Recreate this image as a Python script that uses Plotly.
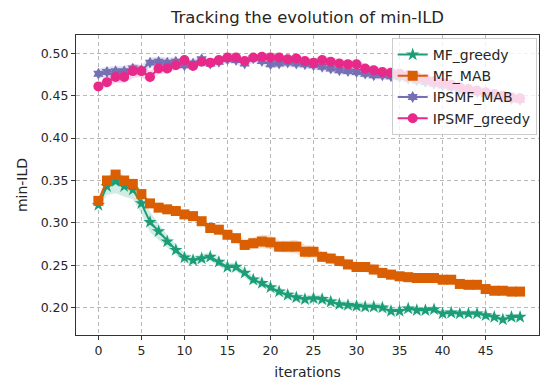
import plotly.graph_objects as go

iterations = list(range(50))

mf_greedy = [0.321, 0.343, 0.349, 0.343, 0.339, 0.323, 0.301, 0.290, 0.278, 0.268,
             0.259, 0.256, 0.258, 0.260, 0.254, 0.248, 0.248, 0.241, 0.233, 0.229,
             0.224, 0.219, 0.215, 0.212, 0.210, 0.211, 0.210, 0.207, 0.204, 0.203,
             0.202, 0.201, 0.201, 0.200, 0.196, 0.196, 0.199, 0.197, 0.197, 0.198,
             0.193, 0.194, 0.193, 0.193, 0.193, 0.191, 0.189, 0.186, 0.189, 0.189]
mf_greedy_err = [0.004, 0.010, 0.014, 0.012, 0.011, 0.012, 0.012, 0.010, 0.008, 0.007,
                 0.006, 0.005, 0.005, 0.005, 0.005, 0.005, 0.005, 0.005, 0.005, 0.005,
                 0.005, 0.005, 0.005, 0.005, 0.005, 0.005, 0.005, 0.005, 0.005, 0.005,
                 0.005, 0.005, 0.005, 0.005, 0.005, 0.005, 0.004, 0.004, 0.004, 0.004,
                 0.004, 0.004, 0.004, 0.004, 0.004, 0.004, 0.004, 0.004, 0.004, 0.004]

mf_mab = [0.326, 0.350, 0.357, 0.350, 0.346, 0.334, 0.323, 0.318, 0.316, 0.314,
          0.310, 0.308, 0.302, 0.294, 0.292, 0.286, 0.282, 0.274, 0.276, 0.278,
          0.277, 0.272, 0.272, 0.272, 0.266, 0.266, 0.260, 0.258, 0.255, 0.251,
          0.248, 0.248, 0.245, 0.241, 0.239, 0.237, 0.236, 0.235, 0.235, 0.235,
          0.233, 0.233, 0.228, 0.227, 0.227, 0.222, 0.220, 0.220, 0.219, 0.219]
mf_mab_err = [0.003, 0.004, 0.004, 0.004, 0.004, 0.004, 0.003, 0.003, 0.003, 0.003,
              0.003, 0.004, 0.004, 0.005, 0.005, 0.005, 0.005, 0.006, 0.007, 0.008,
              0.008, 0.007, 0.007, 0.008, 0.008, 0.007, 0.006, 0.006, 0.006, 0.006,
              0.006, 0.006, 0.006, 0.006, 0.006, 0.006, 0.005, 0.005, 0.005, 0.005,
              0.005, 0.004, 0.003, 0.003, 0.003, 0.003, 0.003, 0.003, 0.003, 0.003]

ipsmf_mab = [0.476, 0.478, 0.479, 0.479, 0.482, 0.480, 0.489, 0.490, 0.489, 0.490,
             0.486, 0.488, 0.493, 0.488, 0.490, 0.493, 0.492, 0.488, 0.494, 0.491,
             0.487, 0.488, 0.489, 0.488, 0.487, 0.486, 0.484, 0.482, 0.480, 0.479,
             0.478, 0.476, 0.474, 0.474, 0.473, 0.472, 0.470, 0.468, 0.466, 0.464,
             0.462, 0.460, 0.458, 0.456, 0.454, 0.452, 0.450, 0.448, 0.446, 0.445]
ipsmf_mab_err = [0.006, 0.006, 0.006, 0.006, 0.006, 0.006, 0.006, 0.006, 0.006, 0.006,
                 0.005, 0.005, 0.005, 0.005, 0.005, 0.005, 0.005, 0.005, 0.005, 0.005,
                 0.005, 0.005, 0.005, 0.005, 0.005, 0.005, 0.005, 0.005, 0.005, 0.005,
                 0.005, 0.005, 0.005, 0.005, 0.005, 0.005, 0.005, 0.005, 0.005, 0.005,
                 0.005, 0.005, 0.005, 0.005, 0.005, 0.005, 0.005, 0.005, 0.005, 0.005]

ipsmf_greedy = [0.461, 0.466, 0.472, 0.472, 0.479, 0.479, 0.472, 0.482, 0.482, 0.486,
                0.492, 0.485, 0.490, 0.489, 0.492, 0.495, 0.495, 0.491, 0.495, 0.496,
                0.495, 0.495, 0.493, 0.494, 0.491, 0.489, 0.492, 0.490, 0.488, 0.487,
                0.487, 0.482, 0.480, 0.478, 0.477, 0.476, 0.474, 0.472, 0.470, 0.467,
                0.465, 0.463, 0.460, 0.458, 0.456, 0.454, 0.452, 0.450, 0.448, 0.447]
ipsmf_greedy_err = [0.004, 0.006, 0.007, 0.007, 0.008, 0.007, 0.007, 0.006, 0.006, 0.005,
                    0.004, 0.004, 0.004, 0.004, 0.004, 0.004, 0.004, 0.004, 0.004, 0.004,
                    0.004, 0.004, 0.004, 0.004, 0.004, 0.005, 0.005, 0.005, 0.005, 0.005,
                    0.005, 0.005, 0.005, 0.005, 0.006, 0.006, 0.006, 0.006, 0.006, 0.006,
                    0.006, 0.006, 0.006, 0.006, 0.006, 0.006, 0.006, 0.006, 0.006, 0.006]

x_ticks = [0, 5, 10, 15, 20, 25, 30, 35, 40, 45]
y_ticks = [0.20, 0.25, 0.30, 0.35, 0.40, 0.45, 0.50]

series = [
    ("MF_greedy", mf_greedy, mf_greedy_err, "#1b9e77", "rgba(27,158,119,0.2)", "star", 10),
    ("MF_MAB", mf_mab, mf_mab_err, "#d95f02", "rgba(217,95,2,0.2)", "square", 10),
    ("IPSMF_MAB", ipsmf_mab, ipsmf_mab_err, "#7570b3", "rgba(117,112,179,0.2)", "hexagram", 9),
    ("IPSMF_greedy", ipsmf_greedy, ipsmf_greedy_err, "#e7298a", "rgba(231,41,138,0.2)", "circle", 10),
]

fig = go.Figure()
for name, vals, err, color, fillc, sym, size in series:
    upper = [v + e for v, e in zip(vals, err)]
    lower = [v - e for v, e in zip(vals, err)]
    fig.add_trace(go.Scatter(x=iterations, y=upper, mode="lines", line=dict(width=0, color=fillc),
                             showlegend=False, hoverinfo="skip"))
    fig.add_trace(go.Scatter(x=iterations, y=lower, mode="lines", line=dict(width=0, color=fillc),
                             fill="tonexty", fillcolor=fillc, showlegend=False, hoverinfo="skip"))
    fig.add_trace(go.Scatter(x=iterations, y=vals, mode="lines+markers", name=name,
                             line=dict(color=color, width=2),
                             marker=dict(symbol=sym, size=size, color=color, line=dict(width=0))))

axis_common = dict(
    showline=True, linecolor="#333333", linewidth=1, mirror=True,
    ticks="outside", ticklen=4, tickcolor="#333333",
    showgrid=True, gridcolor="#b8b8b8", griddash="4px,3px", gridwidth=1,
    zeroline=False, tickfont=dict(family="DejaVu Sans", size=12.5, color="#262626"),
)

fig.update_layout(
    width=541, height=384,
    margin=dict(l=76, r=2, t=35, b=49),
    paper_bgcolor="white", plot_bgcolor="white",
    title=dict(text="Tracking the evolution of min-ILD", x=0.5684, xanchor="center",
               y=0.955, yanchor="middle",
               font=dict(family="DejaVu Sans", size=16.5, color="#262626")),
    xaxis=dict(range=[-2.6, 51.2], tickvals=x_ticks,
               title=dict(text="iterations", font=dict(family="DejaVu Sans", size=14, color="#262626"),
                          standoff=10),
               **axis_common),
    yaxis=dict(range=[0.1678, 0.5216], tickvals=y_ticks, tickformat=".2f",
               title=dict(text="min-ILD", font=dict(family="DejaVu Sans", size=14, color="#262626"),
                          standoff=9),
               **axis_common),
    legend=dict(x=0.995, y=0.99, xanchor="right", yanchor="top", traceorder="normal",
                bgcolor="rgba(255,255,255,0.8)", bordercolor="#cccccc", borderwidth=1,
                font=dict(family="DejaVu Sans", size=14, color="#262626"),
                itemwidth=30, tracegroupgap=0),
    showlegend=True,
)

fig.write_html("out.html")
